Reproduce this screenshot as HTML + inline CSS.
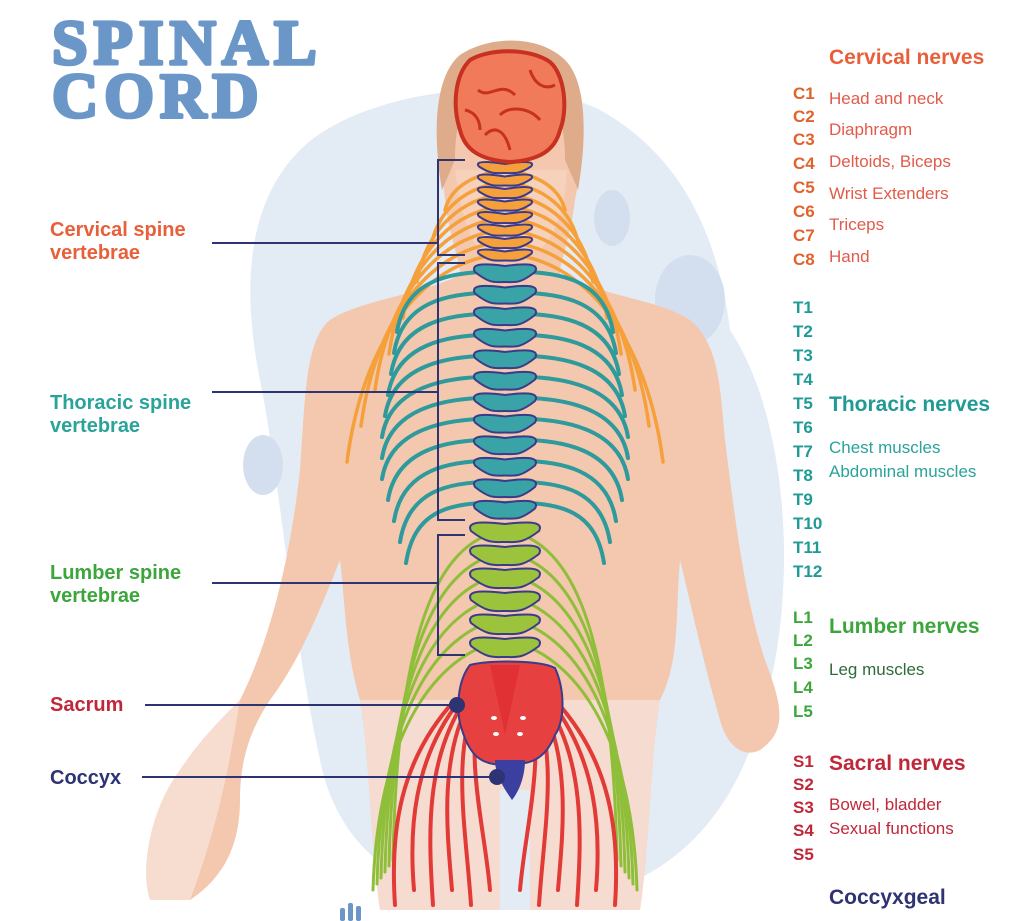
<!DOCTYPE html>
<html><head><meta charset="utf-8">
<style>
html,body{margin:0;padding:0;background:#fff;}
body{width:1024px;height:921px;overflow:hidden;position:relative;font-family:"Liberation Sans",sans-serif;}
svg{position:absolute;left:0;top:0;}
</style></head><body>
<svg id="s" width="1024" height="921" viewBox="0 0 1024 921" xmlns="http://www.w3.org/2000/svg">
<path d="M300,150 C360,90 520,70 600,110 C690,160 720,250 730,330 C790,420 800,600 760,720 C720,860 620,905 520,905 C420,905 340,860 320,760 C290,620 280,480 260,380 C240,280 250,200 300,150 Z" fill="#e3ebf5"/>
<ellipse cx="612" cy="218" rx="18" ry="28" fill="#d3dfef"/>
<ellipse cx="690" cy="300" rx="35" ry="45" fill="#d3dfef"/>
<ellipse cx="263" cy="465" rx="20" ry="30" fill="#d3dfef"/>
<g fill="#f3c8ae">
<path d="M445,200 C440,150 430,80 460,55 C490,35 540,35 565,60 C590,85 585,150 575,200 C570,240 560,260 560,275 C600,295 660,300 690,320 C720,345 720,390 725,440 C735,520 745,600 765,660 C780,700 790,730 760,750 C740,760 725,740 720,720 C700,650 690,600 680,560 C675,620 680,660 660,700 C650,760 650,840 640,910 L380,910 C370,840 370,760 360,700 C345,650 345,600 340,560 C320,610 300,660 270,700 C250,730 240,760 240,800 C240,850 220,880 190,900 L150,900 C140,870 150,810 180,770 C200,740 220,720 240,700 C270,640 290,560 300,470 C305,400 305,340 330,320 C360,300 420,295 460,275 C460,260 450,240 445,200 Z"/>
</g>
<path d="M460,55 C430,80 435,150 442,190 L455,160 C455,110 470,80 510,70 C550,80 565,110 565,160 L578,190 C585,150 590,85 565,60 C540,35 490,35 460,55 Z" fill="#deac8b"/>
<path d="M455,170 C460,210 470,240 480,250 L540,250 C555,235 565,210 567,170" fill="#f6d2bd"/>
<path d="M190,900 L150,900 C140,870 150,810 180,770 C200,740 220,720 240,700 C230,760 220,820 190,900Z" fill="#f7ddd0"/>
<path d="M380,910 C370,840 370,760 360,700 L660,700 C650,760 650,840 640,910 Z" fill="#f6dcd0"/>
<path d="M500,790 L500,910 L530,910 L530,790 Z" fill="#e3ebf5"/>
<g id="nerves" fill="none" stroke-linecap="round"></g>
<g id="spine"></g>
<path d="M470,665 C490,660 540,660 555,668 C565,690 565,720 555,735 C545,760 530,765 505,765 C480,765 470,755 462,730 C455,710 458,680 470,665Z" fill="#e64040" stroke="#3b3b8a" stroke-width="2"/>
<path d="M490,665 L505,735 L520,665Z" fill="#e0282f" opacity=".6"/>
<g fill="#fff"><ellipse cx="494" cy="718" rx="3" ry="2"/><ellipse cx="523" cy="718" rx="3" ry="2"/><ellipse cx="496" cy="734" rx="3" ry="2"/><ellipse cx="520" cy="734" rx="3" ry="2"/></g>
<path d="M495,760 L525,760 C525,775 520,790 512,800 C505,790 495,775 495,760Z" fill="#3a3fa0"/>
<path d="M470,60 C490,48 530,48 550,62 C565,75 568,110 560,130 C555,150 540,160 510,162 C480,160 465,150 460,130 C452,105 455,75 470,60Z" fill="#f07a5a" stroke="#c8301f" stroke-width="4"/>
<path d="M478,90 C490,100 500,80 515,95 M500,115 C510,105 530,108 540,120 M485,135 C495,125 505,130 510,150 M530,70 C535,85 545,90 555,85 M465,110 C475,112 480,120 480,130" fill="none" stroke="#c8301f" stroke-width="3"/>
<g stroke="#2d3373" stroke-width="2" fill="none">
<path d="M465,160 L438,160 L438,255 L465,255"/><line x1="212" y1="243" x2="438" y2="243"/>
<path d="M465,263 L438,263 L438,520 L465,520"/><line x1="212" y1="392" x2="438" y2="392"/>
<path d="M465,535 L438,535 L438,655 L465,655"/><line x1="212" y1="583" x2="438" y2="583"/>
<line x1="145" y1="705" x2="457" y2="705"/><line x1="142" y1="777" x2="497" y2="777"/>
</g>
<circle cx="457" cy="705" r="8" fill="#2d3373"/><circle cx="497" cy="777" r="8" fill="#2d3373"/>
<g font-family="'Liberation Serif',serif" font-weight="bold" fill="#6b96c8" stroke="#6b96c8" stroke-width="3.5" stroke-linejoin="round" font-size="64" letter-spacing="6">
<text x="52" y="64">SPINAL</text><text x="52" y="117">CORD</text></g>
<g font-weight="bold" font-size="20">
<text x="50" y="236" fill="#e8603a">Cervical spine</text><text x="50" y="259" fill="#e8603a">vertebrae</text>
<text x="50" y="409" fill="#2aa39a">Thoracic spine</text><text x="50" y="432" fill="#2aa39a">vertebrae</text>
<text x="50" y="579" fill="#3ca63c">Lumber spine</text><text x="50" y="602" fill="#3ca63c">vertebrae</text>
<text x="50" y="711" fill="#c0283a">Sacrum</text>
<text x="50" y="784" fill="#2d3373">Coccyx</text>
</g>
<g font-size="17">
<text x="829" y="64" font-weight="bold" font-size="21" fill="#e8603a">Cervical nerves</text>
<g font-weight="bold" fill="#e0622c"><text x="793" y="99">C1</text><text x="793" y="122">C2</text><text x="793" y="145">C3</text><text x="793" y="169">C4</text><text x="793" y="193">C5</text><text x="793" y="217">C6</text><text x="793" y="241">C7</text><text x="793" y="265">C8</text></g>
<g fill="#e25a4a"><text x="829" y="104">Head and neck</text><text x="829" y="135">Diaphragm</text><text x="829" y="167">Deltoids, Biceps</text><text x="829" y="199">Wrist Extenders</text><text x="829" y="230">Triceps</text><text x="829" y="262">Hand</text></g>
<g font-weight="bold" fill="#1f9a96"><text x="793" y="313">T1</text><text x="793" y="337">T2</text><text x="793" y="361">T3</text><text x="793" y="385">T4</text><text x="793" y="409">T5</text><text x="793" y="433">T6</text><text x="793" y="457">T7</text><text x="793" y="481">T8</text><text x="793" y="505">T9</text><text x="793" y="529">T10</text><text x="793" y="553">T11</text><text x="793" y="577">T12</text></g>
<text x="829" y="411" font-weight="bold" font-size="21" fill="#1f9a96">Thoracic nerves</text>
<g fill="#2aa39a"><text x="829" y="453">Chest muscles</text><text x="829" y="477">Abdominal muscles</text></g>
<g font-weight="bold" fill="#3ca63c"><text x="793" y="623">L1</text><text x="793" y="646">L2</text><text x="793" y="669">L3</text><text x="793" y="693">L4</text><text x="793" y="717">L5</text></g>
<text x="829" y="633" font-weight="bold" font-size="21" fill="#3ca63c">Lumber nerves</text>
<text x="829" y="675" fill="#2e6b3a">Leg muscles</text>
<g font-weight="bold" fill="#c0283a"><text x="793" y="767">S1</text><text x="793" y="790">S2</text><text x="793" y="813">S3</text><text x="793" y="836">S4</text><text x="793" y="860">S5</text></g>
<text x="829" y="770" font-weight="bold" font-size="21" fill="#c0283a">Sacral nerves</text>
<g fill="#c0283a"><text x="829" y="810">Bowel, bladder</text><text x="829" y="834">Sexual functions</text></g>
<text x="829" y="904" font-weight="bold" font-size="21" fill="#2d3373">Coccyxgeal</text>
</g>
<g fill="#6b96c8"><rect x="340" y="908" width="5" height="13" rx="2"/><rect x="348" y="903" width="5" height="18" rx="2"/><rect x="356" y="906" width="5" height="15" rx="2"/></g>
</svg>
<script>
var NS="http://www.w3.org/2000/svg";
function el(p,t,a){var e=document.createElementNS(NS,t);for(var k in a)e.setAttribute(k,a[k]);p.appendChild(e);return e;}
var nv=document.getElementById('nerves'),sp=document.getElementById('spine');
var cx=505;
// cervical nerves
for(var i=0;i<8;i++){var y=170+i*12;var ox=60+i*14,ey=y+40+i*24;
 [1,-1].forEach(function(s){el(nv,'path',{d:'M'+cx+','+y+' C'+(cx-s*ox*0.5)+','+(y+4)+' '+(cx-s*ox*0.9)+','+(y+(ey-y)*0.4)+' '+(cx-s*ox)+','+ey,stroke:'#f5a03a','stroke-width':3.5});});}
// thoracic ribs
for(var i=0;i<12;i++){var y=272+i*21;var w=100+Math.min(i,5)*3-(i>7?(i-7)*6:0);
 [1,-1].forEach(function(s){el(nv,'path',{d:'M'+cx+','+y+' C'+(cx-s*60)+','+(y-2)+' '+(cx-s*w)+','+(y+10)+' '+(cx-s*(w+8))+','+(y+60),stroke:'#2e9a9c','stroke-width':4});});}
// lumbar nerves
for(var i=0;i<6;i++){var y=530+i*22;var ex=112+i*4;
 [1,-1].forEach(function(s){el(nv,'path',{d:'M'+cx+','+y+' C'+(cx-s*60)+','+(y+10)+' '+(cx-s*(ex-5))+','+(y+80)+' '+(cx-s*ex)+','+(860+i*6),stroke:'#8fbf3a','stroke-width':3});});}
// sacral nerves
for(var i=0;i<6;i++){var x0=25+i*5;var ex=15+i*19;
 [1,-1].forEach(function(s){el(nv,'path',{d:'M'+(cx-s*x0)+',700 C'+(cx-s*(x0+15+i*8))+',760 '+(cx-s*(ex+5))+',830 '+(cx-s*ex)+','+(890+(i%2)*15),stroke:'#e23a36','stroke-width':4});});}
function vert(y,h,w,fill){
 el(sp,'path',{d:'M'+(cx-w)+','+(y+h/2)+' C'+(cx-w-6)+','+(y)+' '+(cx-w/2)+','+(y+2)+' '+cx+','+(y+4)+' C'+(cx+w/2)+','+(y+2)+' '+(cx+w+6)+','+y+' '+(cx+w)+','+(y+h/2)+' C'+(cx+w/2)+','+(y+h+2)+' '+(cx+w/3)+','+(y+h)+' '+cx+','+(y+h)+' C'+(cx-w/3)+','+(y+h)+' '+(cx-w/2)+','+(y+h+2)+' '+(cx-w)+','+(y+h/2)+'Z',fill:fill,stroke:'#3b3b8a','stroke-width':2});
}
for(var i=0;i<8;i++)vert(160+i*12.5,13,26,'#f5a03a');
for(var i=0;i<12;i++)vert(262+i*21.5,20,30,'#3aa3a8');
for(var i=0;i<6;i++)vert(520+i*23,22,34,'#9bc43c');
</script>
</body></html>
